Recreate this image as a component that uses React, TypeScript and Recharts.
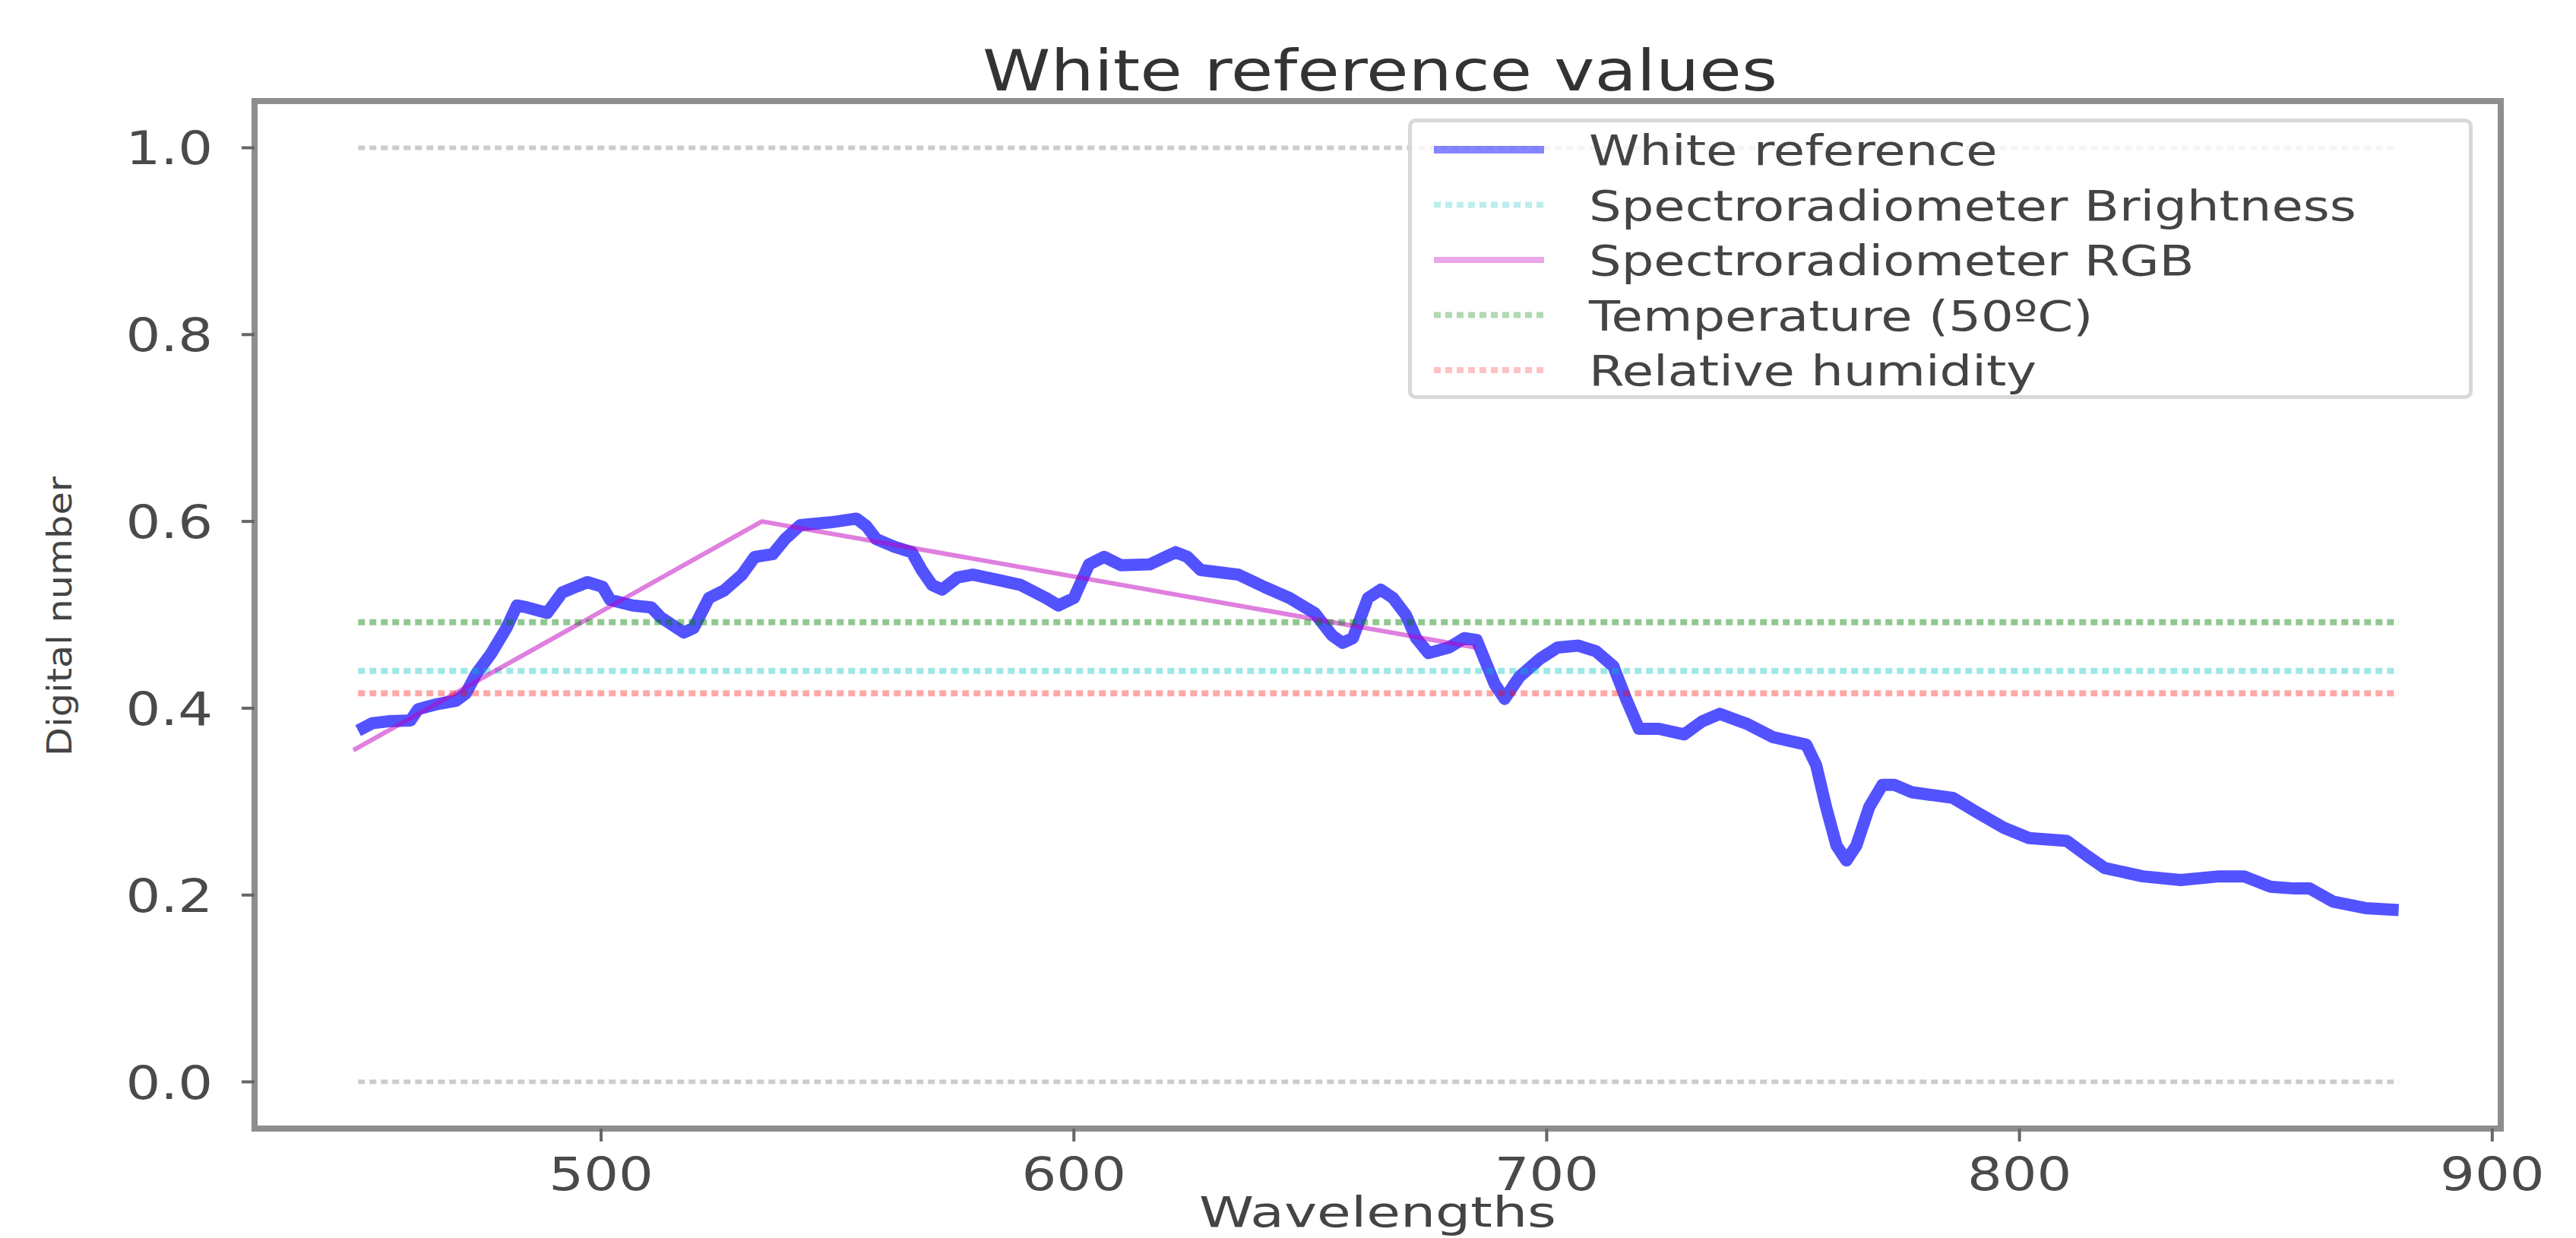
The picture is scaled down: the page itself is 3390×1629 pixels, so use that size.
import { LineChart, Line, XAxis, YAxis, ReferenceArea, Legend } from 'recharts';

const FONT = 'DejaVu Sans';

// white reference curve
const WAVELENGTHS = [
  448.6, 451.6, 455, 459.7, 461.3, 465, 469.3, 471.4, 473.6, 476.8, 480, 482.2, 484.3, 488.6, 491.8,
  497.1, 500.3, 501.9, 506.7, 510.6, 512.7, 517.5, 519.6, 522.8, 526, 529.8, 532.5, 536.3, 538.9,
  542.1, 548.5, 554, 556.1, 558.2, 562, 565.7, 567.8, 570, 572.1, 575.4, 578.6, 583.4, 588.7, 594.1,
  596.7, 600, 603.2, 606.4, 610, 616, 621.5, 624, 626.8, 634.8, 640.2, 645.6, 650.9, 654.6, 656.8,
  659, 662.2, 664.9, 667.5, 670.2, 672.4, 675, 679.3, 682.6, 685.2, 686.8, 689, 691.1, 693.2, 694.3,
  698.6, 702.3, 706.7, 710.4, 714.1, 716.8, 719.5, 723.7, 729.1, 732.9, 736.6, 742.5, 747.9, 754.9,
  757, 759.1, 761.3, 763.4, 765.5, 768.2, 771, 773.5, 777.3, 785.9, 791.2, 796.7, 802, 810, 814.3,
  818, 826.1, 834.1, 842.2, 847.5, 853, 858.2, 861.4, 866.3, 873.2, 880.2,
];
const WHITE_REF = [
  0.376, 0.384, 0.386, 0.387, 0.399, 0.404, 0.408, 0.416, 0.437, 0.459, 0.486, 0.51, 0.508, 0.502, 0.524,
  0.535, 0.53, 0.516, 0.51, 0.508, 0.497, 0.481, 0.486, 0.518, 0.526, 0.543, 0.562, 0.565, 0.581,
  0.596, 0.599, 0.603, 0.595, 0.581, 0.573, 0.567, 0.548, 0.532, 0.527, 0.54, 0.543, 0.538, 0.532, 0.518,
  0.51, 0.518, 0.554, 0.562, 0.553, 0.554, 0.567, 0.562, 0.548, 0.543, 0.53, 0.518, 0.502, 0.478, 0.47,
  0.475, 0.518, 0.527, 0.518, 0.5, 0.475, 0.459, 0.465, 0.475, 0.473, 0.453, 0.426, 0.41, 0.426, 0.434,
  0.453, 0.465, 0.467, 0.461, 0.445, 0.41, 0.378, 0.378, 0.372, 0.386, 0.394, 0.383, 0.369, 0.361,
  0.339, 0.294, 0.253, 0.237, 0.253, 0.294, 0.318, 0.318, 0.31, 0.304, 0.288, 0.272, 0.261, 0.258, 0.242,
  0.229, 0.22, 0.216, 0.22, 0.22, 0.209, 0.207, 0.207, 0.193, 0.186, 0.184,
];

const RGB_WAVELENGTHS = [447.6, 534, 685];
const RGB_VALUES = [0.355, 0.6, 0.465];

const LEVEL_SPAN = [448.6, 880.2];
const BRIGHTNESS = 0.44;
const TEMPERATURE = 0.492;
const HUMIDITY = 0.416;

const X_TICKS = [500, 600, 700, 800, 900];
const Y_TICKS = [0, 0.2, 0.4, 0.6, 0.8, 1.0];
const X_DOMAIN = [426.7, 901.8];
const Y_DOMAIN = [-0.05, 1.05];

const whiteData = WAVELENGTHS.map((wl, i) => ({ wl, v: WHITE_REF[i] }));
const rgbData = RGB_WAVELENGTHS.map((wl, i) => ({ wl, v: RGB_VALUES[i] }));
const level = (v: number) => LEVEL_SPAN.map((wl) => ({ wl, v }));

const SERIES = [
  { key: 'one', name: '', data: level(1), stroke: '#000000', opacity: 0.2, width: 6, dash: '9 6' },
  { key: 'zero', name: '', data: level(0), stroke: '#000000', opacity: 0.2, width: 6, dash: '9 6' },
  { key: 'white', name: 'White reference', data: whiteData, stroke: '#0000ff', opacity: 0.68, width: 16 },
  { key: 'bright', name: 'Spectroradiometer Brightness', data: level(BRIGHTNESS), stroke: '#00bfbf', opacity: 0.38, width: 8, dash: '9 6' },
  { key: 'rgb', name: 'Spectroradiometer RGB', data: rgbData, stroke: '#bf00bf', opacity: 0.5, width: 6 },
  { key: 'temp', name: 'Temperature (50ºC)', data: level(TEMPERATURE), stroke: '#008000', opacity: 0.43, width: 8, dash: '9 6' },
  { key: 'hum', name: 'Relative humidity', data: level(HUMIDITY), stroke: '#ff0000', opacity: 0.34, width: 8, dash: '9 6' },
];

const XTick = ({ x, y, payload }: any) => (
  <text transform={`translate(${x},${y + 64}) scale(1.2,1)`} textAnchor="middle" fontSize={60} fontFamily={FONT} fill="#4a4a4a">
    {payload.value}
  </text>
);

const YTick = ({ x, y, payload }: any) => (
  <text transform={`translate(${x},${y + 22}) scale(1.2,1)`} textAnchor="end" fontSize={60} fontFamily={FONT} fill="#4a4a4a">
    {Number(payload.value).toFixed(1)}
  </text>
);

function LegendBox() {
  const rows = SERIES.filter((s) => s.name);
  return (
    <div
      style={{
        width: 1401,
        height: 369,
        boxSizing: 'border-box',
        border: '5px solid #d8d8d8',
        borderRadius: 10,
        background: 'rgba(255,255,255,0.8)',
      }}
    >
      <svg width={1391} height={359}>
        {rows.map((s, i) => {
          const cy = 36 + i * 72.5;
          return (
            <g key={s.key}>
              <line x1={29} x2={174} y1={cy} y2={cy} stroke={s.stroke} strokeOpacity={s.opacity * 0.7} strokeWidth={s.key === 'white' ? 10 : 8} strokeDasharray={s.dash} />
              <text transform={`translate(233,${cy + 20}) scale(1.2,1)`} fontSize={56} fontFamily={FONT} fill="#444">
                {s.name}
              </text>
            </g>
          );
        })}
      </svg>
    </div>
  );
}

export default function App() {
  return (
    <div style={{ position: 'absolute', left: 0, top: 0, width: 3390, height: 1629, background: '#fff' }}>
      <LineChart width={3390} height={1629} margin={{ top: 133, right: 99, bottom: 44, left: 135 }}>
        <XAxis
          type="number"
          dataKey="wl"
          domain={X_DOMAIN}
          ticks={X_TICKS}
          interval={0}
          allowDataOverflow
          height={100}
          axisLine={false}
          tickSize={17}
          tickMargin={0}
          tickLine={{ stroke: '#666', strokeWidth: 4 }}
          tick={XTick}
        />
        <YAxis
          type="number"
          domain={Y_DOMAIN}
          ticks={Y_TICKS}
          interval={0}
          allowDataOverflow
          width={200}
          axisLine={false}
          tickSize={17}
          tickMargin={38}
          tickLine={{ stroke: '#666', strokeWidth: 4 }}
          tick={YTick}
        />
        <ReferenceArea
          x1={X_DOMAIN[0]}
          x2={X_DOMAIN[1]}
          y1={Y_DOMAIN[0]}
          y2={Y_DOMAIN[1]}
          fill="none"
          stroke="#8e8e8e"
          strokeWidth={8}
          ifOverflow="visible"
        />
        {SERIES.map((s) => (
          <Line
            key={s.key}
            name={s.name || s.key}
            data={s.data}
            dataKey="v"
            type="linear"
            stroke={s.stroke}
            strokeOpacity={s.opacity}
            strokeWidth={s.width}
            strokeDasharray={s.dash}
            strokeLinejoin="round"
            dot={false}
            activeDot={false}
            isAnimationActive={false}
          />
        ))}
        <Legend
          layout="horizontal"
          verticalAlign="middle"
          align="center"
          wrapperStyle={{ left: 1853, top: 156, width: 1401, height: 369 }}
          content={() => <LegendBox />}
        />
      </LineChart>
      <svg width={3390} height={1629} style={{ position: 'absolute', left: 0, top: 0, pointerEvents: 'none' }}>
        <text x={1816} y={119} textAnchor="middle" fontSize={74} fontFamily={FONT} fill="#333" textLength={1046} lengthAdjust="spacingAndGlyphs">
          White reference values
        </text>
        <text x={1813} y={1614} textAnchor="middle" fontSize={56} fontFamily={FONT} fill="#444" textLength={470} lengthAdjust="spacingAndGlyphs">
          Wavelengths
        </text>
        <text transform="translate(94,811) rotate(-90)" textAnchor="middle" fontSize={44} fontFamily={FONT} fill="#444" textLength={368} lengthAdjust="spacingAndGlyphs">
          Digital number
        </text>
      </svg>
    </div>
  );
}
